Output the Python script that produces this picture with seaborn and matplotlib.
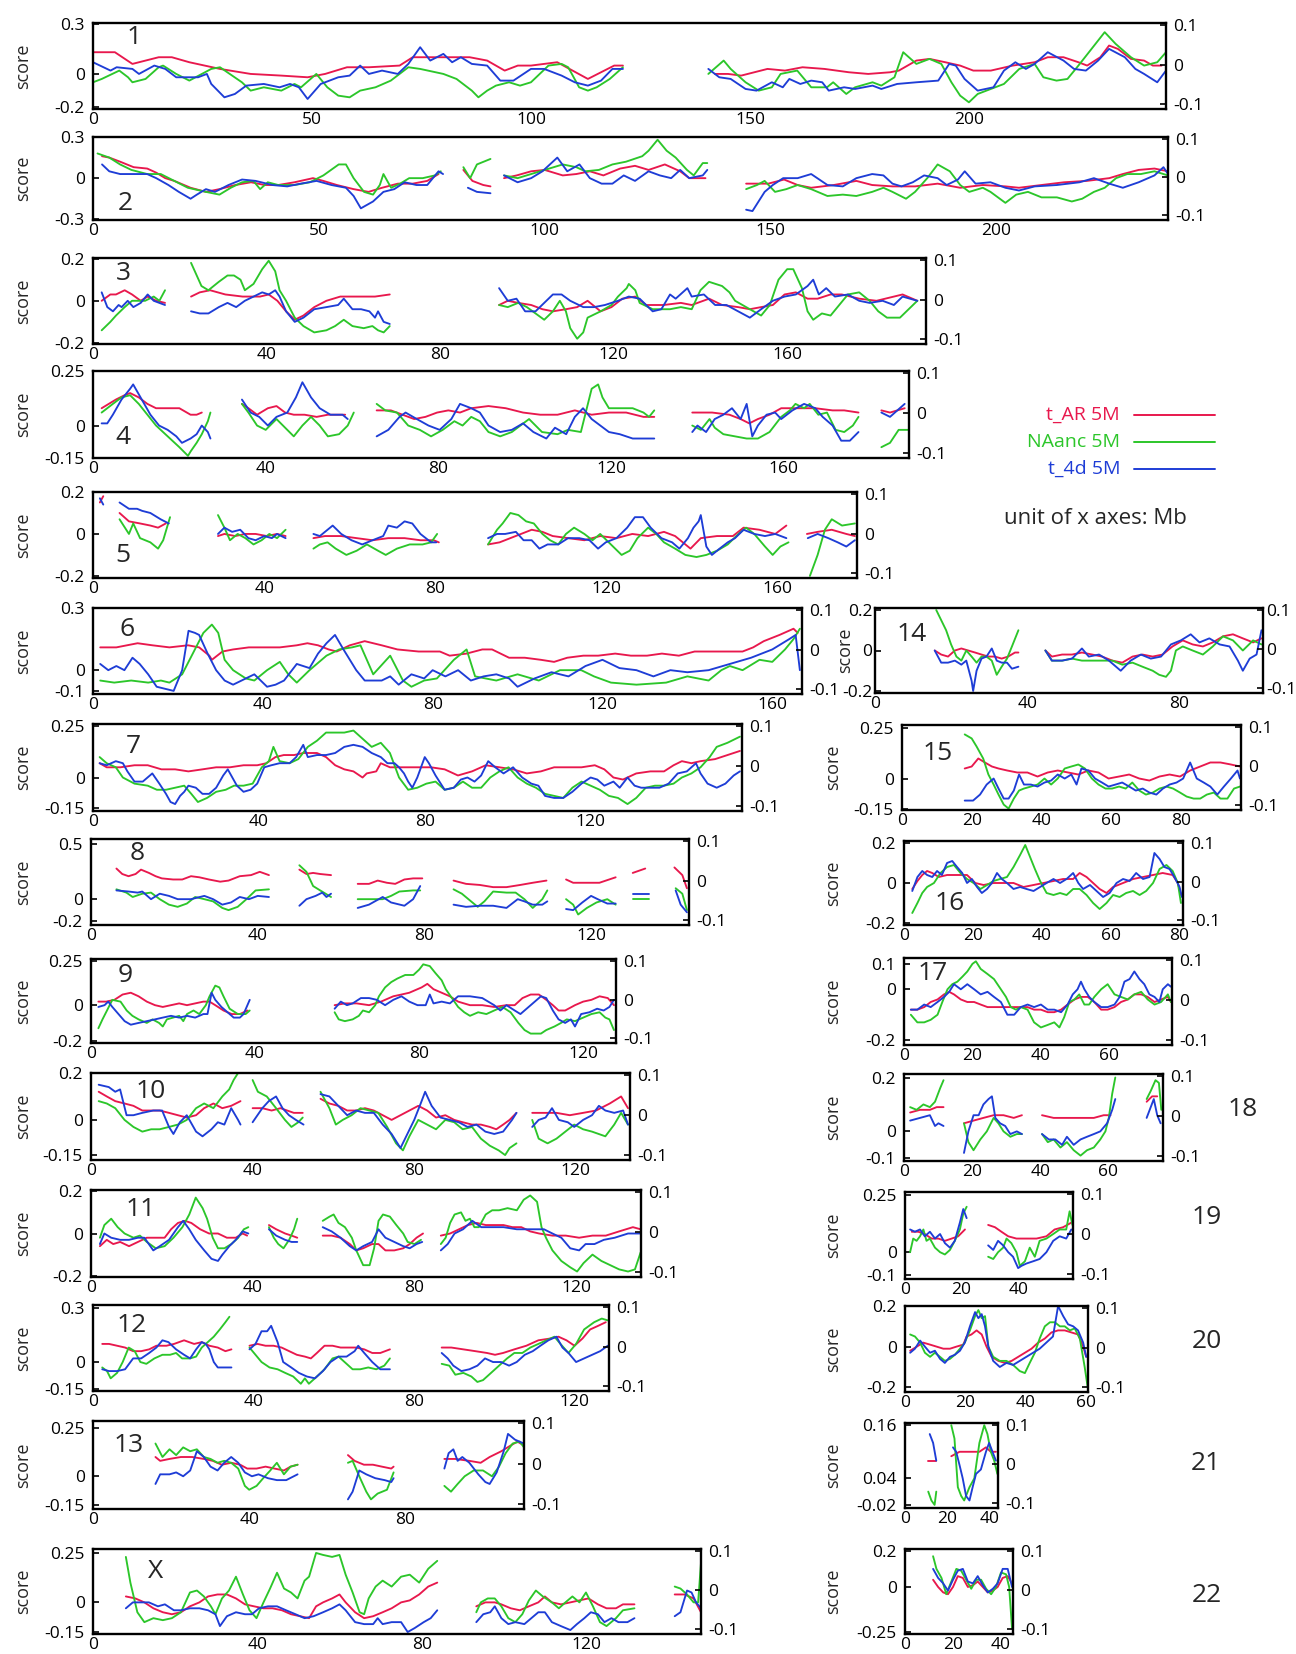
import matplotlib
matplotlib.use("Agg")
import matplotlib.pyplot as plt
from matplotlib.lines import Line2D
import pandas as pd
import seaborn as sns

# ---------------------------------------------------------------------------
# data: (position in Mb, score); None marks a gap in the series
# ---------------------------------------------------------------------------
AR_1 = [(0,.13),(5,.13),(9,.06),(15,.10),(18,.10),(22,.07),(29,.03),(36,0),(43,-.01),(49,-.02),(53,0),(58,.04),(63,.04),(70,.05),(73,.10),(80,.10),(86,.10),(90,.08),(94,.02),(97,.05),(100,.05),(103,.06),(106,.07),(113,-.03),(119,.05),(121,.05), None,
        (142,0),(145,0),(148,-.01),(154,.03),(158,.02),(162,.04),(167,.03),(172.6,.01),(177,0),(182,.01),(184,.02),(188,.08),(191,.09),(194.6,.07),(198,.05),(201,.02),(205,.02),(210,.05),(215,.07),(218,.10),(221.6,.10),(225,.07),(227,.05),(230,.10),(232,.17),(234,.15),(237,.09),(240,.08),(242,.05),(244,.05)]
NA_1 = [(0,-.05),(2,-.03),(6,.02),(8,-.02),(9,-.05),(12,-.03),(15,.04),(16,.05),(19,0),(22,-.04),(27,.03),(29,.04),(34,-.05),(36,-.10),(39,-.08),(43,-.10),(46,-.06),(47.5,-.08),(51,0),(53.5,-.08),(56,-.13),(58.6,-.14),(61,-.10),(64.5,-.08),(68,-.04),(72,.04),(74.7,.03),(80,0),(83,-.03),(86.5,-.10),(88,-.14),(90,-.10),(92,-.07),(95,-.05),(97.5,-.07),(100,-.05),(104,.05),(107,.06),(108.5,.04),(111,-.08),(113,-.10),(115,-.08),(118,-.03),(121,.04), None,
        (140.5,0),(144,.08),(145.6,.03),(149,-.05),(152,-.10),(155,-.08),(157,0),(160.8,.02),(164,-.08),(167.6,-.08),(169,-.05),(172,-.12),(174,-.08),(178,-.05),(180,-.07),(183,-.02),(185,.13),(188,.06),(191,.09),(193.7,.06),(196,-.05),(198,-.13),(200,-.17),(202,-.12),(206,-.08),(208,-.06),(211.5,.03),(215,.06),(217,-.02),(220,-.04),(222.5,-.03),(225,.05),(228,.15),(231,.25),(233.5,.18),(237,.10),(240,.05),(243,.07),(245,.13)]
T4_1 = [(0,.07),(4,.02),(5.4,.04),(9,.03),(10.5,0),(14,.05),(16.5,.03),(19,-.02),(24,-.02),(26,0),(27,-.06),(30,-.14),(32.4,-.12),(35,-.07),(39,-.06),(42.6,-.08),(45,-.06),(47,-.08),(49,-.15),(52,-.06),(56,-.02),(58.6,-.01),(61,.05),(63,0),(66,.02),(69.6,0),(72,.06),(74.7,.16),(77,.08),(80,.12),(82,.07),(84,.10),(86.5,.06),(90,.05),(93,-.04),(96,-.04),(100,.03),(103,.03),(107,-.01),(110,-.05),(113,-.07),(116,-.04),(118.6,.03),(121,.03), None,
        (140.5,.03),(143,-.02),(145.6,-.03),(149,-.09),(151.5,-.10),(155,-.05),(157.5,-.08),(159,-.03),(161.5,-.06),(164,-.04),(166.5,-.05),(168,-.10),(171.5,-.08),(174,-.09),(178,-.07),(180,-.09),(183.6,-.06),(188,-.05),(193,-.04),(195.5,.06),(197,.05),(199,-.03),(202,-.10),(205.6,-.08),(208,.02),(210.6,.07),(213,.03),(215,.06),(218,.13),(221.6,.08),(224,.03),(226.7,.02),(229.5,.08),(232,.15),(235.6,.10),(238,.03),(240,0),(243,-.05),(245,.02)]

AR_2 = [(2,.16),(3.6,.15),(6,.12),(9,.08),(12,.07),(14,.04),(16,0),(18,-.02),(21.6,-.07),(25,-.10),(28,-.08),(31.5,-.05),(35,-.03),(38,-.05),(41,-.05),(44.6,-.03),(48.7,0),(51,-.02),(54,-.05),(57.7,-.08),(61,-.10),(64,-.07),(67.5,-.04),(70.8,-.04),(74,-.02),(76.5,.03), None,
        (82,.06),(84,-.02),(86.4,-.05),(88,-.06), None,
        (91,0),(93.8,.02),(97,.05),(100,.06),(104,.02),(107,.03),(110,.05),(113,.02),(116.7,.07),(120,.09),(123,.06),(126.6,.10),(130,.05),(132,0),(135.6,0), None,
        (144.6,-.04),(149.5,-.04),(153,-.01),(156,-.05),(159,-.07),(164,-.05),(169,-.02),(172.5,-.05),(177,-.06),(182,-.06),(187,-.04),(192,-.07),(197,-.05),(202,-.06),(205,-.07),(210,-.05),(215,-.03),(220,-.02),(225,0),(228,.03),(231.5,.06),(235,.07),(238,.05)]
NA_2 = [(1,.18),(3.6,.15),(6,.10),(8.5,.06),(12,.03),(15,.03),(18,-.02),(21,-.07),(25,-.10),(28,-.12),(30.5,-.07),(33,-.03),(35.5,-.02),(37,-.08),(38.7,-.03),(41,-.05),(44.6,-.05),(48,-.03),(51,.02),(54.4,.10),(56,.10),(57.7,0),(60,-.10),(62,-.12),(63.5,-.05),(64.3,.03),(66,-.07),(68,-.04),(70,0),(73,0),(75.7,.02),(77,.05), None,
        (82,.08),(83.5,0),(85,.10),(88,.14), None,
        (91,.02),(94,0),(97,.03),(100,.06),(104,.10),(107,.08),(109,.05),(112,.06),(115,.10),(118,.12),(121.6,.16),(123,.20),(125,.28),(127,.20),(129,.15),(131.5,.06),(133,.02),(135,.11),(136,.11), None,
        (144.6,-.08),(147,-.05),(148.7,-.02),(151,-.10),(153.5,-.08),(156,-.05),(159,-.08),(162.6,-.13),(166,-.12),(169,-.13),(172.5,-.10),(175,-.07),(177,-.10),(180,-.15),(182,-.10),(184.7,0),(187,.10),(189.7,.05),(192,-.05),(194,-.10),(197,-.07),(198.7,-.10),(202,-.18),(204.4,-.12),(207,-.10),(210,-.14),(213.4,-.14),(216.7,-.17),(219,-.15),(221.6,-.10),(224,-.07),(226.5,0),(229,.03),(232,.03),(235,.05),(238,.02)]
T4_2 = [(2,.10),(3.6,.05),(6,.03),(9,.03),(12,.03),(14,0),(16.7,-.05),(19,-.10),(21.6,-.15),(23,-.12),(25,-.08),(27,-.10),(30,-.05),(33,-.01),(36,-.02),(39.7,-.05),(43,-.06),(46,-.04),(49.5,-.02),(52.8,-.05),(56,-.07),(57.7,-.13),(59.3,-.22),(62,-.17),(64.3,-.10),(66.7,-.08),(69,-.03),(71.6,-.05),(74,-.05),(76.5,.05),(77.5,.03), None,
        (83,-.07),(85,-.10),(88,-.11), None,
        (91,.02),(94,-.03),(97,0),(99.5,.05),(102.8,.15),(105,.05),(107.7,.10),(110,0),(112.6,-.04),(115,-.04),(117.5,.02),(120,-.02),(123,.05),(125.5,.02),(128,0),(130,.06),(132,0),(135,.02),(136,.06), None,
        (144.6,-.23),(146,-.24),(148.7,-.10),(150.5,-.05),(152.8,0),(156,0),(159,.03),(162.6,-.05),(166,-.06),(169,0),(172.5,.03),(175,.02),(177,-.04),(179,-.06),(181.5,-.03),(184,.02),(187,0),(189,-.05),(191.5,-.01),(193,.05),(195.4,-.04),(198.7,-.03),(202,-.07),(205,-.09),(208.5,-.06),(213.4,-.05),(218.4,-.03),(221.6,0),(225,-.04),(228,-.07),(231.5,-.03),(235,.02),(237,.08),(238,.03)]

AR_3 = [(2,0),(4,.03),(5.3,.03),(7.3,.05),(9,.03),(11,0),(12.6,.02),(14.6,0),(16.6,-.01), None,
        (22.6,.02),(24.6,.04),(27,.05),(30.5,.03),(34.5,.02),(38.5,.02),(40.5,.03),(42.5,0),(44.5,-.05),(46.5,-.09),(48.5,-.07),(51,-.03),(53.8,0),(57,.02),(61,.02),(65,.02),(68.4,.03), None,
        (93.6,-.02),(95.6,0),(98,-.01),(101,-.02),(103.6,-.04),(106,-.05),(109,-.04),(111.6,-.03),(114,0),(117,-.05),(119.5,-.03),(122,.01),(125,.02),(127.5,-.02),(131.5,-.02),(135.5,-.01),(138,-.02),(142,.01),(145,-.02),(148.7,-.03),(151.4,-.04),(154,-.03),(156.7,-.02),(159.4,.03),(162,.04),(164.7,.01),(167,.01),(170,.03),(172.6,.03),(176.6,.01),(180.6,0),(184.6,.02),(186.6,.03),(190,0)]
NA_3 = [(2,-.14),(4,-.10),(5.3,-.07),(7.3,-.03),(9,0),(12,0),(14,.02),(15.3,0),(16.6,.05), None,
        (22.6,.18),(25,.07),(26.6,.05),(29,.09),(31,.12),(32.5,.12),(34,.10),(35,.05),(37,.08),(39,.15),(40.5,.19),(42,.14),(43,.05),(44.5,0),(46.5,-.08),(48.5,-.12),(51,-.15),(53.8,-.14),(55.8,-.12),(57.8,-.09),(59.8,-.12),(62.4,-.13),(64.4,-.12),(65.7,-.14),(67,-.15),(68.4,-.12), None,
        (93.6,-.02),(95.6,-.03),(98,-.01),(100,-.03),(102,-.06),(104,-.09),(106,-.05),(107.6,0),(109,-.05),(110,-.13),(111.6,-.18),(113,-.15),(114,-.08),(117,-.05),(119.5,-.02),(121,.02),(123,.06),(123.5,.08),(125,.05),(126,-.01),(129,-.04),(133,-.04),(135.5,-.03),(138,-.04),(140,.05),(142,.09),(145,.07),(146.7,.04),(148,0),(151.4,-.04),(154,-.07),(156,-.02),(158,.10),(160,.15),(161.4,.15),(163.4,.06),(164.7,-.05),(166,-.09),(168,-.06),(170,-.07),(172,-.02),(174,.03),(176.6,.04),(179,0),(181,-.05),(183,-.08),(186,-.08),(190,0)]
T4_3 = [(2,.04),(3.3,-.03),(4.6,-.05),(5.9,-.02),(6.6,-.03),(8,0),(9.3,-.03),(11,-.01),(12.6,.03),(14,0),(16.6,-.02), None,
        (22.6,-.05),(24.6,-.06),(26.6,-.06),(29,-.03),(31,-.01),(33,-.03),(35,0),(37,.02),(39,.04),(40.5,.03),(42,.05),(43,.02),(44.5,-.05),(46.5,-.10),(48.5,-.08),(51,-.04),(53.8,-.03),(56.5,-.02),(57.8,.01),(59.8,-.04),(61.8,-.04),(63.7,-.05),(65,-.08),(65.7,-.05),(67,-.10),(68.4,-.11), None,
        (93.6,.06),(95.6,0),(97.6,.01),(99.6,-.05),(102,-.05),(104,-.01),(106,.03),(108,.03),(110,0),(113,-.03),(115.5,-.03),(118,-.02),(121,0),(123.5,.02),(126,.01),(129,-.05),(131,-.04),(133,.03),(134.3,.01),(137,.06),(138,.02),(140.8,.03),(143.4,-.02),(146,-.02),(148.7,-.05),(151.4,-.08),(154,-.04),(156.7,0),(159.4,.02),(162,.03),(164.7,.07),(166,.10),(167.3,.03),(169,.06),(171,.02),(174,.03),(176.6,0),(179,-.01),(182,0),(184.6,-.02),(186.6,.02),(190,0)]

AR_4 = [(2,.08),(5.3,.12),(7.3,.14),(8.6,.15),(10.6,.13),(12.6,.10),(14.6,.08),(17.3,.08),(20,.08),(22.6,.05),(24,.05),(25.2,.06), None,
        (34.5,.10),(36,.08),(38,.05),(40.5,.08),(42.5,.09),(44.5,.06),(46.5,.05),(49,.05),(51.8,.04),(54.4,.05),(57,.05),(58.4,.05), None,
        (65.7,.07),(69,.07),(71.7,.05),(74.4,.03),(77,.04),(79.7,.06),(82.3,.07),(85,.06),(87.6,.08),(91.6,.09),(95.6,.08),(99.6,.06),(103.6,.05),(107.6,.05),(111.6,.07),(115.5,.05),(119.5,.06),(123.5,.06),(127.5,.04),(130,.04), None,
        (138.8,.06),(143.4,.06),(147.4,.05),(150,.03),(152,.01),(154,.03),(156.7,.05),(159.4,.08),(163.4,.08),(167.3,.08),(171.3,.07),(174,.07),(177.3,.06), None,
        (182.6,.07),(184.6,.06),(188,.08)]
NA_4 = [(2,.06),(4.6,.10),(6.6,.13),(8.6,.14),(10.6,.10),(12.6,.05),(14.6,0),(17.3,-.05),(20,-.10),(22,-.14),(22.6,-.12),(24,-.08),(25.2,-.04),(26.6,.02),(27.2,.06), None,
        (34.5,.10),(36,.06),(38,0),(40,-.02),(41,0),(42.5,.03),(44.5,-.01),(46.5,-.05),(48.5,0),(50.5,.04),(52.5,0),(54.4,-.05),(57,-.04),(59,0),(60.4,.06), None,
        (65.7,.10),(67.7,.07),(70.4,.06),(73,0),(75.7,-.02),(78.3,-.05),(81,-.02),(83.7,.02),(85.6,0),(87.6,.04),(89.6,.02),(91.6,-.03),(94.3,-.05),(97,-.03),(99,0),(101,.03),(104,-.03),(107.6,-.04),(110,-.02),(113,-.03),(114,.05),(115.5,.17),(117,.19),(118,.13),(119.5,.08),(122,.08),(125,.08),(127.5,.06),(128.8,.04),(130,.07), None,
        (138.8,0),(140.8,-.02),(142.8,.03),(144,-.01),(146,-.04),(148.7,-.05),(151.4,-.06),(154,-.06),(156.7,-.03),(159.4,.04),(161.4,.07),(162.7,.10),(164.7,.08),(166,.10),(168,.05),(170,.06),(172,-.02),(174,-.03),(176,0),(177.3,.04), None,
        (182.6,-.10),(184.6,-.08),(186.6,-.02),(189,-.02)]
T4_4 = [(2,.01),(3.3,.01),(4.6,.05),(6.6,.12),(8.6,.17),(9.3,.19),(11.3,.12),(13.3,.05),(15.3,0),(17.3,-.02),(19.3,-.05),(20.6,-.08),(22.6,-.06),(24,-.04),(25.2,0),(26.6,-.03),(27.2,-.06), None,
        (34.5,.12),(36.5,.06),(38.5,.04),(40.5,0),(42.5,.04),(45,.06),(47,.13),(48.5,.20),(50.5,.13),(52.5,.08),(55,.05),(57.8,.05),(59,.03), None,
        (65.7,-.05),(68.4,-.02),(71,.04),(72.4,.06),(75,.03),(77.7,0),(80.3,-.02),(83,.03),(85,.10),(87.6,.08),(89.6,.06),(91.6,0),(94.3,-.03),(97,-.02),(99.6,.01),(102,-.03),(105,-.06),(107,-.01),(109.6,-.04),(111.6,.04),(113.5,.08),(115.5,.03),(117.5,0),(119.5,-.03),(122,-.04),(125,-.06),(127.5,-.06),(130,-.06), None,
        (138.8,-.03),(140,0),(142,-.03),(144,.03),(146,.05),(148,.08),(150,.03),(151.4,.10),(152.7,-.05),(154,0),(156,.05),(158,.06),(159.4,.03),(162,.07),(164.7,.10),(167.3,.08),(169,.04),(171.3,0),(173.3,-.07),(175.3,-.07),(177.3,-.03), None,
        (182.6,.06),(184.6,.04),(188,.10)]

AR_5 = [(1.6,.15),(2.4,.18), None,
        (6.2,.10),(8.4,.06),(11,.05),(13.4,.04),(15.2,.03),(17,.05), None,
        (29.2,-.01),(30.7,0),(33.2,-.01),(35.6,0),(38,0),(40.6,-.01),(43,0),(45,-.01), None,
        (51.5,-.02),(54.2,-.01),(58,-.01),(61.6,-.02),(65.3,-.03),(69,-.02),(72.8,-.02),(76.5,-.03),(79.6,-.03),(80.8,-.04), None,
        (92.3,-.05),(95,-.04),(97.5,-.02),(100,0),(102.5,.02),(105,.01),(107.4,-.01),(111,-.02),(114.8,-.03),(118.5,-.01),(122.3,-.02),(126,0),(129.7,-.01),(133.4,.01),(136,-.01),(138.4,-.05),(139.6,-.07),(142,-.02),(145.8,-.01),(149.5,-.01),(152,.03),(155.7,.02),(159.4,0),(162,.04), None,
        (166.8,0),(169.3,.01),(172.6,.02),(176,0),(178,-.01)]
NA_5 = [(6.2,.07),(8.4,0),(9.4,.05),(11,-.02),(13.4,-.04),(15.2,-.07),(16.4,-.03),(18,.08), None,
        (29.2,.09),(30.7,.03),(32,-.03),(33.8,0),(35.6,-.02),(37.5,-.05),(39.4,-.03),(41.2,0),(43,-.02),(45,.02), None,
        (51.5,-.07),(53,-.05),(54.8,-.04),(56.7,-.07),(59.2,-.10),(61.6,-.08),(64,-.05),(66.6,-.08),(68.4,-.10),(71,-.07),(74,-.05),(77,-.05),(79,-.04),(80.4,0), None,
        (92.3,-.05),(94.4,.02),(95.7,.05),(97.5,.10),(99.4,.09),(101.2,.06),(103,.05),(105,0),(106.8,-.03),(108.7,-.05),(110.5,0),(112.4,.03),(114.8,0),(116.7,-.03),(118.5,0),(121,-.05),(123.5,-.10),(125.4,-.08),(127.2,-.02),(129.7,.03),(131.6,0),(133.4,-.04),(136,-.07),(138.4,-.10),(141,-.11),(143.3,-.10),(145.8,-.08),(148.3,-.05),(150.8,0),(152.6,.03),(154.5,0),(157,-.06),(158.8,-.10),(160.6,-.06),(162.5,-.04), None,
        (167.5,-.20),(169.3,-.10),(171,.02),(172.6,.07),(175,.04),(178,.05)]
T4_5 = [(1.6,.17),(2.4,.14), None,
        (6.2,.15),(8.4,.12),(10.3,.12),(11.5,.11),(13.4,.10),(15.8,.07),(17.7,.05), None,
        (29.2,0),(30.7,.03),(32.5,.01),(34.4,.02),(36.3,-.02),(38,-.03),(40,-.01),(41.8,-.02),(43,0),(45,-.02), None,
        (51.5,0),(53,-.01),(54.8,.02),(56,.04),(58,0),(60.4,-.03),(62.9,-.05),(65.3,-.03),(67.8,-.01),(69,.04),(71,.03),(72.8,.06),(74.6,.05),(76.5,0),(79,-.04),(80.2,-.04), None,
        (92.3,-.02),(94.4,0),(96.3,0),(98.8,.01),(100.6,-.03),(102.5,-.03),(104.3,-.07),(106.2,-.05),(108.7,-.05),(111,-.02),(113.6,-.02),(116,-.03),(118,-.07),(119.8,-.04),(122.3,-.02),(124.8,.03),(126.6,.08),(128.5,.08),(130.3,.03),(132.8,-.02),(135.3,-.04),(137,-.07),(139,-.02),(140.3,.03),(141.5,.06),(142,.09),(143.3,-.06),(144.6,-.10),(146.4,-.07),(148.3,-.04),(150,-.02),(152,.02),(154.5,0),(157,-.01),(159.4,0),(162,-.02), None,
        (167,-.02),(169.3,0),(171.8,-.02),(174,-.04),(176,-.06),(178,-.03)]

AR_6 = [(1.7,.11),(5.5,.11),(8,.12),(10.5,.13),(14,.12),(18,.11),(22.4,.12),(25,.11),(27.4,.07),(28,.05),(30.5,.09),(33,.10),(36.7,.11),(40.5,.11),(44,.11),(48,.12),(50.5,.13),(53,.12),(55.5,.10),(57.4,.09),(60.5,.12),(64,.14),(68,.12),(71.7,.10),(76.7,.09),(81.7,.09),(84,.07),(88,.08),(91.7,.10),(94,.10),(98,.06),(101.7,.06),(105.5,.05),(108.6,.04),(111.7,.06),(115.5,.07),(119,.07),(123,.08),(126.7,.07),(130.5,.07),(134,.08),(138,.07),(141.7,.09),(145.5,.09),(149,.09),(153,.09),(155.5,.11),(158,.14),(161.7,.17),(165,.20),(166,.18)]
NA_6 = [(1.7,-.05),(5,-.06),(9,-.05),(13,-.06),(16,-.05),(18,-.06),(21,-.02),(24,.10),(26,.18),(28,.22),(29.5,.18),(31,.05),(33,0),(36,-.04),(38,-.05),(41,0),(44,.04),(46,-.02),(48,-.06),(51,0),(55,.07),(58,.10),(61,.11),(63,.12),(66,-.02),(70,.07),(73,-.05),(75,-.08),(78,-.05),(81,-.04),(85,.05),(88,.10),(90,-.03),(95,-.05),(100,-.02),(105,-.05),(110,0),(115,0),(118,-.03),(122,-.06),(128,-.07),(135,-.06),(140,-.03),(145,-.05),(148,0),(150,.02),(153,0),(157,.05),(160,.04),(163,.10),(165,.15),(166.5,.20)]
T4_6 = [(1.7,.03),(3.6,0),(5.5,.02),(7.4,0),(9.3,.06),(11,.03),(13,-.02),(15,-.08),(17,-.09),(19,-.10),(21,0),(22.5,.19),(24,.18),(25,.17),(27,.08),(29,0),(31,-.05),(33,-.07),(35,-.05),(38,-.02),(41,-.08),(43,-.07),(45,-.05),(48,.03),(51,.01),(53,.08),(55,.13),(57,.17),(59,.10),(62,0),(64,-.05),(68,-.05),(70,-.03),(72,-.07),(75,-.02),(78,-.04),(80,0),(83,-.03),(86,0),(89,-.05),(92,-.03),(95,-.02),(98,-.04),(100,-.08),(104,-.04),(108,-.01),(112,-.03),(116,.02),(120,.05),(124,.01),(128,0),(132,-.03),(136,0),(140,-.01),(145,0),(150,.03),(155,.06),(160,.10),(164,.15),(165.5,.17),(166.5,0)]

AR_7 = [(1.6,.07),(3.3,.05),(6.6,.05),(10,.06),(13.2,.06),(16.5,.04),(19.8,.04),(23,.03),(26.4,.04),(29.7,.05),(33,.05),(36.3,.06),(39.6,.06),(41.8,.07),(44,.10),(46,.11),(48.5,.11),(50.7,.12),(54,.12),(56.2,.10),(58.4,.06),(60.6,.04),(62.8,.03),(65,0),(66,.02),(68.3,.03),(69.4,.07),(71.6,.05),(75,.05),(78.2,.05),(81.5,.05),(84.8,.04),(88,.01),(91.4,.03),(94.7,.06),(98,.05),(101.3,.04),(104.6,.02),(108,.03),(111.2,.05),(114.5,.05),(117.8,.05),(121,.06),(123.3,.04),(125.5,0),(127.8,-.01),(131,.02),(134.4,.03),(137.7,.03),(140,.06),(142,.08),(144.3,.07),(146.5,.08),(150,.09),(153,.11),(156,.13)]
NA_7 = [(1.6,.10),(3.3,.07),(5.5,.05),(7.2,0),(10,-.03),(13.2,-.04),(15.4,-.06),(17.6,-.06),(19.8,-.05),(22,-.04),(23.7,-.08),(25.3,-.12),(27.5,-.10),(29.7,-.07),(32,-.06),(34,-.04),(36.3,-.04),(38.5,-.03),(40.7,.05),(42.4,.08),(43.5,.15),(45,.08),(47.4,.07),(49.5,.09),(51.8,.15),(54,.18),(56.2,.22),(58.4,.22),(60.6,.22),(62.8,.23),(65,.19),(67.2,.15),(69.4,.17),(71.6,.12),(73.8,0),(76,-.06),(78.2,-.05),(80.4,-.03),(82.6,-.02),(84.8,-.06),(87,-.05),(89.2,-.02),(91.4,-.05),(93.6,-.05),(95.8,0),(98,.03),(100.2,.05),(102.4,0),(104.6,-.03),(106.8,-.05),(109,-.08),(111.2,-.09),(113.4,-.10),(115.6,-.05),(117.8,-.02),(120,-.04),(122.2,-.06),(124.4,-.09),(126.6,-.10),(128.9,-.13),(131,-.10),(133.3,-.05),(135.5,-.04),(137.7,-.04),(140,-.03),(142,0),(144.3,.02),(146.5,.05),(148.7,.10),(150.4,.15),(153,.17),(156,.20)]
T4_7 = [(1.6,.07),(3.3,.06),(5.5,.08),(7.2,.07),(8.3,.03),(10,-.02),(12,-.02),(14.3,.02),(16,-.03),(17.6,-.08),(18.7,-.12),(19.8,-.13),(21,-.09),(22,-.07),(23,-.04),(24.8,-.05),(26.4,-.08),(28,-.08),(29.7,-.05),(31.4,.01),(32.5,.04),(33.6,0),(34.7,-.04),(36.3,-.07),(38,-.06),(39.6,-.03),(41.3,.05),(43,.06),(45,.07),(47.4,.07),(49,.10),(50.7,.16),(51.8,.10),(54,.11),(56.2,.11),(58.4,.12),(60.6,.15),(62.8,.16),(65,.15),(67.2,.12),(69.4,.10),(71,.07),(72.7,.07),(73.8,.05),(75,.02),(76,-.02),(77,-.05),(78.2,0),(80,.10),(81,.07),(82.6,.01),(84.8,-.06),(87,-.05),(88.7,-.01),(90.3,0),(92,-.02),(93.6,.01),(95.3,.08),(97,.05),(99,.02),(101.3,.05),(103.5,0),(105.7,-.03),(107.4,-.04),(109,-.09),(111.2,-.10),(113.4,-.10),(115.6,-.07),(117.8,-.03),(120,0),(121.6,-.01),(123.3,-.04),(125.5,-.02),(127,-.05),(128.9,0),(130.6,-.04),(132.2,-.05),(134.4,-.05),(136.6,-.05),(138.8,-.03),(141,.02),(143.2,.03),(145.4,.07),(146.5,.02),(148.2,-.03),(150.4,-.05),(152.5,-.03),(154.5,.01),(156,.03)]

AR_8 = [(6.1,.28),(7.5,.23),(9,.21),(10.7,.23),(12,.27),(13.9,.24),(15.5,.21),(17,.19),(19.7,.18),(21.9,.18),(24,.21),(26,.20),(28.3,.18),(31,.16),(33,.17),(35.7,.21),(38.4,.22),(40.5,.25),(42.7,.22), None,
        (50,.27),(51.7,.23),(53.3,.24),(55,.23),(57.6,.22), None,
        (64,.14),(66.7,.14),(68.8,.17),(71,.15),(73,.14),(75.2,.18),(77.3,.19),(79.5,.19), None,
        (87,.17),(90,.14),(93.3,.13),(96.5,.11),(99.7,.11),(103,.13),(106,.15),(109.3,.17), None,
        (114,.18),(115.7,.15),(119,.15),(122,.15),(125.9,.20), None,
        (130,.24),(133,.28), None,
        (140,.29),(141.9,.22),(143,.10)]
NA_8 = [(6.1,.09),(8.5,.06),(10,.02),(12.3,.05),(14.4,.06),(16.5,0),(18.7,-.05),(20.8,-.07),(23,-.04),(25,.02),(27.2,0),(29.3,-.02),(31.5,-.08),(33,-.10),(35.2,-.07),(37.3,0),(39.5,.08),(42.7,.09), None,
        (50,.31),(51.7,.25),(53.3,.12),(55,.08),(57.6,.02), None,
        (64,0),(66.7,0),(70,0),(72,.03),(74,.07),(77.3,.08),(79,.08), None,
        (87,.09),(89,.05),(91.2,-.02),(92.8,-.07),(94.4,-.02),(96.5,.07),(99.7,.06),(101.9,.06),(104,0),(106,-.08),(108.3,0),(109.5,.08), None,
        (114,0),(115.7,-.05),(116.9,-.14),(119,-.08),(121.3,-.03),(123.9,0),(125.9,-.05), None,
        (130,0),(134,0), None,
        (140.3,.10),(141.9,.05),(143,-.10)]
T4_8 = [(6.1,.08),(9,.07),(11.2,.06),(12.3,.07),(14.4,0),(16.5,.05),(18.7,.03),(20.8,0),(24,0),(27.2,.03),(29.3,0),(31.5,-.05),(33.6,-.03),(35.7,.02),(37.9,0),(40,.03),(42.7,.02), None,
        (50,-.06),(51.7,0),(53.9,.03),(55.5,.06),(56.5,.02),(57.6,.05), None,
        (64,-.08),(66.7,-.05),(70,.02),(72,-.03),(75.2,-.06),(77.3,0),(79,.12), None,
        (87,-.05),(90,-.07),(93.3,-.06),(96.5,-.06),(99.7,-.08),(102.4,0),(104,-.02),(106,-.05),(108.3,-.05),(109.5,-.02), None,
        (114,-.09),(115.7,-.10),(117.9,-.03),(120,.03),(121.6,0),(123.9,-.04),(125.9,-.04), None,
        (130,.05),(134,.05), None,
        (140.3,.08),(141.5,-.05),(143,-.12)]

AR_9 = [(1.8,.02),(3.7,.02),(5.7,.03),(7.7,.06),(9.7,.07),(11.6,.05),(13.6,.02),(15.6,0),(17.5,-.01),(19.5,0),(21.5,.01),(23.4,0),(25.4,.01),(27.4,.02),(28.9,.02),(30.3,0),(32.3,-.03),(34.3,-.05),(36.3,-.05),(38.2,-.03), None,
        (59.4,0),(61.9,.01),(64.8,.01),(67.8,0),(70.7,.02),(73.7,.05),(75.7,.06),(77.6,.07),(80.6,.10),(82,.12),(83.5,.09),(85.5,.07),(87.5,.05),(89.5,.02),(92.4,0),(95.4,0),(98.3,-.01),(101.3,0),(103.3,0),(105.2,.04),(107.2,.06),(109.2,.06),(111,.03),(112.6,0),(114,-.03),(115.6,-.03),(118,0),(120,.02),(122,.03),(124,.05),(126,.04),(127.5,0)]
NA_9 = [(1.8,-.13),(2.8,-.08),(3.9,-.03),(5.2,.03),(7.2,.02),(8.7,-.03),(10.1,-.06),(11.6,-.08),(13.6,-.10),(15,-.08),(16.6,-.10),(17.5,-.12),(18.5,-.08),(20,-.07),(21.5,-.06),(22.5,-.09),(23.4,-.05),(25,-.03),(26.4,-.05),(28,0),(28.9,.05),(30.3,.11),(31.3,.10),(32.3,.05),(33.8,-.02),(35.8,-.05),(37.7,-.05),(38.7,-.03), None,
        (59.4,-.04),(60.4,-.08),(61.9,-.09),(63.8,-.08),(65.3,-.06),(66.3,-.03),(67.8,-.04),(69.3,0),(70.2,.05),(71.7,.10),(73.2,.13),(74.7,.15),(76.6,.17),(78.6,.17),(80,.20),(81,.23),(82.6,.22),(84,.18),(85.5,.14),(86.5,.09),(88,.04),(89.5,-.01),(91,-.04),(92.4,-.06),(94.4,-.04),(96.4,-.05),(98.3,-.03),(100.3,-.01),(102.3,-.04),(104.2,-.10),(105.7,-.14),(107.2,-.16),(109.7,-.16),(111,-.14),(113,-.12),(114.6,-.10),(116,-.08),(118,-.09),(120,-.07),(122,-.05),(124,-.04),(125.4,-.07),(126.4,-.08),(127.5,-.14)]
T4_9 = [(1.8,-.01),(3.3,0),(4.2,.02),(5.2,-.01),(6.7,-.05),(8.2,-.09),(9.7,-.11),(11.6,-.10),(13.6,-.09),(15.6,-.08),(17.5,-.07),(19.5,-.06),(21.5,-.07),(23.4,-.06),(25.4,-.07),(27.4,-.05),(28.4,-.05),(29.4,.07),(30.3,.03),(31.8,-.01),(33.3,-.04),(34.8,-.07),(36.3,-.07),(37.2,-.05),(38.7,.03), None,
        (59.4,-.02),(60.9,.02),(62.4,0),(63.8,.01),(65.8,.04),(67.8,.04),(69.7,.03),(71.7,0),(73.7,.03),(75.7,.05),(77.6,.02),(79.6,0),(81.6,0),(82.6,.06),(83.5,.01),(85.5,.02),(87.5,.01),(89.5,.05),(92.4,.05),(95.4,.04),(98.3,0),(99.8,-.03),(101.3,0),(103.3,-.03),(104.7,-.05),(106.2,-.02),(108.2,.02),(109.7,.05),(111,.04),(112.6,-.03),(114,-.08),(115.6,-.10),(117,-.08),(118,-.12),(119.5,-.05),(121.5,-.04),(123.4,-.02),(125,-.03),(126.4,-.01),(127.5,.03)]

AR_10 = [(1.9,.12),(3.9,.10),(6,.08),(8.3,.07),(10.5,.06),(12.7,.04),(14.9,.04),(17,.04),(19.3,.03),(21.5,.02),(23.7,.01),(26,.02),(28,.05),(30.3,.07),(32.5,.05),(34.7,.06),(37,.08), None,
         (40,.05),(42.4,.05),(44.7,.04),(46.9,.05),(50.2,.03),(52.4,.03), None,
         (56.8,.09),(59,.07),(61.2,.06),(63.4,.04),(65.6,.04),(67.8,.05),(70,.04),(72.2,.02),(74.4,0),(76.6,.02),(78.8,.04),(81,.06),(83.2,.04),(85.4,.01),(87.7,.02),(89.9,0),(92,-.01),(94.3,-.02),(96.5,-.02),(98.7,-.03),(100.3,-.04),(102,-.02),(103.6,0),(105.3,.03), None,
         (109.2,.03),(112,.03),(115.2,.03),(118.5,.02),(121.8,.03),(125,.04),(128.4,.07),(131.2,.10),(132.9,.05)]
NA_10 = [(1.9,.08),(3.9,.07),(6,.05),(8.3,0),(10.5,-.03),(12.7,-.05),(14.9,-.04),(17,-.04),(19.3,-.03),(21.5,-.02),(23.7,0),(26,.05),(28,.07),(30.3,.05),(32.5,.10),(34.2,.13),(35.3,.17),(36.4,.20), None,
         (40,.17),(41.3,.12),(43.5,.10),(45.8,.05),(48,0),(49.6,-.03),(51.3,-.01),(52.4,.01), None,
         (56.8,.12),(59,.05),(60.6,-.02),(62.3,0),(64.5,.02),(66.7,.05),(68.9,.04),(71.1,.03),(73.3,-.03),(75.5,-.10),(77.2,-.13),(78.8,-.07),(81,0),(83.2,-.02),(85.4,-.04),(87.7,0),(89.9,-.01),(92,-.04),(94.3,-.03),(96.5,-.08),(98.7,-.11),(100.9,-.13),(102.5,-.15),(103.6,-.12),(105.3,-.10), None,
         (109.2,0),(110.8,-.08),(113,-.10),(115.2,-.08),(117.4,-.05),(119.6,-.02),(121.8,-.04),(124,-.05),(127.3,-.07),(129.5,-.02),(131.2,.03),(132.9,-.02)]
T4_10 = [(1.9,.15),(4.4,.14),(6,.12),(7.2,.13),(8.8,.02),(10.5,.02),(12.7,.03),(15.4,.04),(17.6,.04),(19.3,-.03),(20.4,-.06),(22,-.01),(23.7,.02),(26,-.05),(27.6,-.07),(29.8,-.04),(31.4,-.01),(33,-.02),(34.7,.05),(36.4,0),(37,-.02), None,
         (40,-.01),(42.4,.05),(44,.08),(45.8,.10),(47.4,.05),(49,.02),(50.7,0),(52.6,-.02), None,
         (56.8,.11),(59,.10),(61.2,.06),(63.4,.02),(65.6,.04),(67.8,.03),(70,.03),(72.2,-.02),(74.4,-.06),(76.6,-.12),(78.3,-.06),(80,0),(81.6,.07),(82.7,.12),(84.3,.06),(86.5,.01),(88.8,0),(91,-.01),(93.2,-.03),(95.4,-.02),(97.6,-.05),(99.8,-.06),(102,-.05),(104.2,0),(105.3,.03), None,
         (109.2,-.03),(110.8,0),(112.5,.01),(114.1,.05),(115.8,0),(118,-.01),(119.6,-.03),(121.8,0),(124,.02),(125.7,.06),(127.3,.04),(129.5,.03),(131.7,.04),(132.9,-.02)]

AR_11 = [(2.2,-.06),(3.9,-.03),(5.5,-.05),(7.2,-.04),(9.4,-.06),(11.6,-.04),(13.8,-.02),(16,-.02),(18.2,-.02),(19.8,.02),(21.5,.05),(23.2,.06),(24.8,.05),(27,.02),(29.2,0),(31.4,0),(33.6,-.02),(35.8,-.02),(37.5,0),(38.6,-.01), None,
         (44,.04),(45.8,.02),(48,0),(49.6,-.01),(51,-.02), None,
         (57.3,-.01),(59.5,-.01),(61.7,-.02),(64,-.05),(65.6,-.08),(67.3,-.07),(69.5,-.05),(71.1,-.05),(72.8,-.08),(75,-.08),(77.2,-.07),(78.8,-.05),(80.5,-.02),(82.1,0), None,
         (86.5,-.01),(88.8,0),(91,.02),(93.2,.04),(95.4,.05),(97.6,.04),(99.8,.04),(102,.04),(104.2,.03),(106.4,.03),(108.6,.01),(110.8,0),(114.1,-.01),(117.4,-.01),(120.7,-.02),(124,-.01),(127.3,-.01),(130.6,.01),(134,.03),(135.9,.02)]
NA_11 = [(2.2,-.02),(3.3,.04),(5,.07),(6.6,.03),(8.3,0),(10.5,-.02),(12.1,-.01),(13.8,-.04),(16,-.07),(18.2,-.06),(20.4,-.02),(22.6,.03),(24.3,.09),(25.9,.17),(27.6,.12),(28.7,.07),(30.1,-.02),(31.4,-.07),(33,-.07),(34.7,-.05),(36.4,-.02),(37.8,.02),(38.9,.03), None,
         (44,.03),(45.2,-.02),(46.3,-.05),(47.6,-.07),(49,-.03),(50.2,.02),(51,.07), None,
         (57.3,.06),(59,.08),(60,.09),(61.2,.05),(62.8,.03),(64.5,-.02),(65.6,-.08),(67.3,-.15),(68.9,-.15),(70,-.07),(71.1,.06),(72.2,.09),(73.9,.08),(75.5,.04),(77.2,0),(78.3,-.04),(80,-.05),(81.6,-.03), None,
         (86.5,-.05),(87.7,-.02),(88.8,.05),(89.9,.09),(91.5,.10),(92.6,.06),(93.7,.07),(94.8,.03),(95.9,.03),(97.6,.09),(99.2,.11),(100.9,.11),(103,.12),(105.3,.11),(107,.16),(108.6,.18),(110.3,.15),(111.4,.03),(112.5,-.02),(114.1,-.08),(116.3,-.13),(118.5,-.16),(120.2,-.18),(121.8,-.14),(124,-.10),(126.2,-.13),(128.4,-.15),(130.6,-.17),(132.8,-.18),(134.5,-.17),(135.9,-.09)]
T4_11 = [(2.2,-.05),(3.3,0),(5,-.02),(7.2,-.03),(9.4,-.03),(11.6,-.02),(13.2,-.02),(15.4,-.08),(17,-.06),(19.3,-.03),(21.5,.03),(22.8,.06),(24.3,.02),(25.9,-.03),(28,-.08),(29.8,-.12),(31.4,-.13),(32.5,-.10),(34.2,-.06),(35.8,-.03),(37.5,.01),(38.9,0), None,
         (44,.02),(45.8,-.01),(48,-.03),(49.6,-.04),(51,-.04), None,
         (57.3,.03),(59.5,.01),(61.7,-.02),(64,-.06),(65.6,-.08),(67.3,-.06),(69.5,-.04),(71.1,.02),(72.8,-.02),(75,-.04),(77.2,-.06),(78.8,-.07),(80.5,-.05),(81.9,-.04), None,
         (86.5,-.08),(88.2,-.05),(89.9,0),(92,.02),(94.3,.06),(96.5,.03),(98.7,.03),(102,.03),(105.3,.02),(108.6,.02),(112,.02),(114.1,0),(116.3,-.02),(118.5,-.07),(120.7,-.08),(122.3,-.05),(124.5,-.05),(126.8,-.03),(129.5,-.02),(132.8,0),(135.9,0)]

AR_12 = [(2.3,.10),(4,.10),(6,.09),(8,.08),(10,.06),(12,.06),(14,.07),(15.8,.09),(18.3,.09),(20.2,.10),(22.7,.12),(25.2,.10),(27.1,.11),(29,.09),(31.1,.08),(33,.06),(34.5,.07), None,
         (39,.09),(41,.10),(43,.09),(45,.09),(47,.08),(48.9,.06),(50.8,.04),(52.8,.03),(54.3,.02),(55.8,.05),(57.7,.09),(59.7,.09),(61.7,.08),(63.7,.08),(65.6,.08),(67.6,.07),(69.6,.05),(71.6,.05),(74,.07), None,
         (86.9,.08),(89.3,.08),(92.3,.07),(95.3,.06),(98.2,.05),(100.2,.04),(102.2,.05),(105,.07),(108,.09),(111,.12),(114,.13),(116,.14),(118,.12),(120,.09),(122,.13),(123.9,.18),(125.9,.20),(127.8,.22)]
NA_12 = [(2.3,-.03),(3.5,-.05),(4.4,-.09),(6,-.06),(7.4,0),(8.9,.08),(10.4,.06),(11.8,0),(13.3,-.01),(15.3,.02),(17.3,.04),(19.2,.04),(20.7,.05),(22.2,.02),(24.2,.02),(25.7,.03),(27.1,.08),(28.6,.11),(30.1,.14),(31.6,.18),(33,.22),(34,.25), None,
         (39,.08),(40.5,.04),(42,0),(44,-.03),(46,-.04),(47.9,-.06),(49.9,-.08),(51.8,-.12),(52.8,-.09),(53.8,-.12),(55.8,-.08),(57.7,-.04),(59.7,.02),(61.2,.03),(62.7,0),(64.7,-.04),(66.6,-.04),(68.6,-.03),(70.6,-.04),(72.6,-.02),(74,.02), None,
         (86.9,-.01),(88.8,-.02),(90.3,-.07),(92.3,-.06),(94.3,-.08),(95.8,-.11),(97.2,-.10),(99.2,-.06),(101.2,-.02),(103.2,.02),(105,.05),(107,.05),(109,.08),(111,.10),(113,.12),(115,.14),(116.5,.10),(118.5,.05),(120.4,.10),(122.4,.18),(124.9,.22),(126.8,.24),(128.3,.23)]
T4_12 = [(2.3,-.04),(4,-.05),(6,-.05),(8,-.04),(10,.02),(12,.02),(14,.05),(15.8,.08),(17.3,.12),(18.8,.11),(20.7,.07),(22.7,.04),(24.2,.02),(25.7,.07),(27.1,.11),(28.1,.10),(29,.07),(30.1,0),(31.1,-.03),(33,-.03),(34.5,-.03), None,
         (39,.07),(40.5,.10),(42,.17),(43.4,.17),(44.4,.20),(46,.11),(47.4,0),(49.4,-.03),(51.3,-.06),(53.3,-.08),(55.3,-.09),(57.3,-.05),(59.2,0),(61.2,.03),(63.2,.03),(65.2,.06),(66.1,.09),(67.6,.05),(69.6,0),(71.6,-.04),(74,-.04), None,
         (86.9,.05),(88.4,.02),(89.8,-.02),(91.8,-.05),(93.8,-.04),(95.8,-.02),(97.7,.02),(99.7,0),(101.7,0),(103.7,-.02),(105.6,0),(107.6,.04),(109.6,.06),(111.5,.09),(113.5,.12),(115.5,.14),(117,.08),(118.5,.05),(120.4,0),(122.4,.02),(124.4,.04),(126.4,.06),(128.3,.09)]

AR_13 = [(16,.10),(17.2,.08),(19.6,.09),(22.5,.10),(25.4,.10),(28.4,.09),(30.7,.08),(33,.06),(35.4,.07),(37.7,.06),(39.5,.04),(41.9,.04),(44.2,.05),(46.5,.04),(48.9,.03),(50.6,.05),(52.4,.06), None,
         (65.3,.11),(67,.08),(69.4,.06),(71.7,.06),(74,.05),(76.4,.04),(77,.05), None,
         (90,.09),(92.8,.09),(96.4,.08),(99.3,.07),(101.6,.10),(104.6,.13),(107,.16),(108.7,.18),(110.4,.16)]
NA_13 = [(16,.17),(17.8,.10),(19.6,.14),(21.3,.11),(23.1,.15),(24.9,.13),(26.6,.14),(28.4,.10),(30.1,.09),(31.9,.07),(33.6,.08),(35.4,.07),(37.2,.04),(38.9,-.05),(40,-.07),(41.9,-.05),(43.6,-.01),(45.4,.03),(47.1,.07),(48.9,.01),(50.6,.05),(52.4,.06), None,
         (65.3,.07),(66.5,.08),(68.2,0),(70,-.08),(71.2,-.12),(72.9,-.09),(75.3,-.07),(77,.02), None,
         (90,-.05),(91.7,-.08),(93.4,-.04),(95.2,0),(97.5,.03),(99.9,.03),(102.2,0),(104,.05),(105.7,.12),(107.5,.17),(109.3,.18),(110.4,.15)]
T4_13 = [(16,-.04),(17.2,.01),(19.6,.01),(21.3,.02),(23.1,0),(24.9,.03),(26.6,.13),(28.4,.10),(30.1,.05),(31.9,.03),(33.6,.07),(35.4,.10),(37.2,.07),(38.9,.02),(40.7,0),(42.4,.01),(44.8,-.01),(47.1,-.02),(49.5,-.02),(52.4,.01), None,
         (65.3,-.12),(66.5,-.08),(68.2,.03),(70,.01),(72.3,-.01),(74.7,-.02),(76.4,-.03),(77,-.01), None,
         (90,.04),(91.1,.12),(92.3,.14),(93.4,.08),(94.6,.10),(96.4,.07),(98.7,.01),(100.5,-.03),(101.6,-.04),(103.4,.02),(105.2,.13),(106.3,.22),(108.1,.19),(110.4,.17)]

AR_X = [(8,.03),(10.3,.02),(12.5,0),(14.7,-.03),(17,-.05),(19.2,-.06),(21.4,-.05),(23.6,-.02),(25.9,0),(28,.03),(30.3,.04),(32.6,.04),(34.8,.02),(37,-.01),(39.2,-.02),(41.5,-.03),(43.7,-.03),(46,-.04),(48.2,-.06),(50.4,-.07),(52.6,-.08),(54.3,-.02),(56,0),(58.2,.02),(60,.04),(61.5,0),(63.8,-.05),(66,-.08),(68.2,-.07),(70.5,-.05),(72.7,-.03),(75,0),(77.1,.01),(79.4,.04),(81.6,.08),(83.8,.10), None,
        (93.3,-.02),(95.5,0),(97.8,0),(99.4,-.01),(101.7,-.03),(103.9,-.04),(106.1,-.02),(108.4,0),(110,.03),(111.7,0),(113.9,-.01),(116.2,0),(118.4,.01),(120.6,.02),(122.9,-.01),(125,-.03),(127.3,-.03),(129,-.01),(131.8,-.01), None,
        (141.6,.04),(144,.04),(146.2,.02),(148,-.05)]
NA_X = [(8,.23),(9.1,.10),(10.8,-.05),(12.5,-.10),(14.7,-.08),(17,-.09),(19.2,-.08),(21.4,-.05),(23.6,.05),(25.3,.06),(27,.03),(28.7,-.02),(29.8,-.06),(31.4,.02),(33.1,.06),(34.8,.13),(36.5,.04),(38.1,-.04),(39.8,-.08),(41.5,0),(43.1,.07),(44.8,.15),(46.5,.07),(48.2,.05),(49.8,.02),(51.5,.11),(52.6,.13),(54.3,.25),(56,.24),(58.2,.23),(60,.24),(61.5,.14),(63.2,.05),(64.9,-.05),(66,-.06),(67.1,.02),(68.8,.08),(70.5,.11),(72.7,.08),(75,.13),(77.1,.14),(79.4,.10),(81.6,.17),(83.8,.21), None,
        (93.3,-.05),(94.4,0),(96.1,.02),(97.8,.02),(99.4,-.02),(101.1,-.08),(102.8,-.10),(104.5,-.06),(106.1,.01),(107.8,.06),(109.5,.03),(111.7,0),(113.4,-.03),(115,0),(116.7,.03),(118.4,0),(120,.05),(121.7,-.02),(123.4,-.10),(125,-.12),(127.3,-.08),(129,-.04),(131.8,-.03), None,
        (141.6,.08),(143,.07),(144.6,.04),(146.2,0),(147.3,0),(148,.20)]
T4_X = [(8,-.03),(9.7,0),(11.4,0),(13.6,0),(15.8,-.02),(17.5,-.01),(19.7,-.04),(21.4,-.04),(23.6,-.03),(25.9,-.03),(28,-.04),(29.8,-.06),(30.9,-.12),(32.6,-.07),(34.8,-.05),(37,-.06),(38.7,-.06),(40.4,-.03),(42.6,-.02),(44.8,-.02),(47,-.04),(49.3,-.06),(51.5,-.08),(53.7,-.07),(56,-.05),(58.2,-.03),(60,-.01),(61.5,-.04),(63.8,-.10),(66,-.11),(68.2,-.11),(69.3,-.08),(70.5,-.11),(72.7,-.10),(75,-.10),(76.6,-.15),(78.3,-.13),(80.5,-.10),(82.2,-.08),(83.8,-.04), None,
        (93.3,-.10),(95,-.06),(96.7,-.05),(97.8,-.02),(99.4,-.08),(101.1,-.11),(102.8,-.10),(105,-.11),(106.7,-.08),(108.4,-.05),(110,-.05),(111.7,-.10),(113.9,-.12),(116.2,-.14),(117.8,-.11),(119.6,-.08),(121.2,-.05),(122.9,-.06),(124.5,-.10),(126.2,-.08),(127.9,-.10),(130.1,-.10),(131.8,-.08), None,
        (141.6,-.07),(143,-.05),(144.6,.06),(145.7,.05),(146.8,0),(148,-.03)]

AR_14 = [(15.7,0),(17.4,-.02),(19.2,-.03),(21,0),(22.7,.01),(24.5,0),(26.3,-.01),(28,-.02),(29.8,-.03),(31.5,-.03),(33.3,-.04),(35,-.03),(36.8,-.01),(37.7,-.01), None,
         (44.8,0),(46.5,-.03),(49.2,-.02),(51.8,-.02),(54.4,-.01),(57.1,-.02),(59.7,-.03),(62.4,-.05),(65,-.06),(67.7,-.03),(70.3,-.02),(73,-.03),(75.6,-.02),(78.2,.02),(80.9,.05),(83.5,.03),(86.2,.02),(88.8,.04),(91.5,.07),(94.1,.08),(96.7,.06),(99.4,.04),(101.6,.06)]
NA_14 = [(16.1,.20),(17.4,.15),(18.7,.10),(20,.03),(21.4,-.03),(22.7,-.05),(24,0),(25.4,-.03),(26.7,-.06),(28,-.03),(29.3,-.03),(30.7,-.05),(32,-.12),(33.3,-.08),(34.7,-.04),(36,.02),(37.7,.10), None,
         (44.8,0),(46.5,-.05),(49.2,-.05),(51.8,-.04),(54.4,-.05),(57.1,-.05),(59.7,-.05),(62.4,-.05),(65,-.07),(67.7,-.06),(70.3,-.08),(73,-.10),(74.7,-.12),(76.5,-.13),(77.8,-.10),(79.1,0),(80.9,.02),(83.5,0),(86.2,-.02),(88.8,.02),(91.5,.07),(94.1,.05),(96.7,0),(99.4,.05),(101.6,.03)]
T4_14 = [(15.7,0),(17.4,-.06),(19.2,-.06),(21,-.05),(22.7,-.07),(24,-.05),(25.4,-.15),(25.8,-.20),(26.7,-.10),(28,-.04),(29.3,-.03),(30.7,.01),(32,-.05),(33.3,-.06),(34.7,-.06),(36,-.09),(37.7,-.08), None,
         (44.8,0),(46.5,-.05),(49.2,-.05),(51.8,-.04),(54.4,.01),(56.2,-.03),(58.9,-.02),(61.5,-.05),(64.6,-.10),(67.2,-.05),(69.9,-.02),(72.5,-.04),(75.2,-.03),(77.8,.03),(80.4,.05),(83,.08),(85.3,.04),(87.9,.06),(90.6,.03),(93.2,.02),(95.4,-.05),(96.7,-.10),(98.5,-.04),(100.3,-.02),(101.6,.10)]

AR_15 = [(18,.05),(20,.06),(21.9,.10),(23.8,.08),(25.8,.06),(27.7,.05),(30.2,.04),(33.1,.03),(36,.03),(38.9,.01),(41.8,.03),(44.7,.04),(47.7,.03),(50.6,.02),(53.5,.04),(56.4,.03),(59.3,0),(62.3,.01),(65.2,.02),(68.1,0),(71,-.01),(73.9,.01),(76.8,.02),(79.8,.01),(82.7,.04),(85.6,.06),(88.5,.08),(91.4,.08),(94.4,.07),(97,.06)]
NA_15 = [(18,.22),(20,.20),(21.4,.16),(23.3,.10),(24.8,.02),(26.3,-.03),(27.7,-.08),(29.2,-.13),(30.6,-.15),(32.1,-.10),(33.6,-.06),(35,-.05),(37,-.04),(38.9,-.03),(40.9,0),(42.8,-.03),(44.7,0),(46.7,.05),(48.6,.06),(50.6,.07),(52.5,.05),(54.5,0),(56.4,-.03),(58.4,-.05),(60.3,-.05),(62.3,-.04),(64.2,-.05),(66.1,-.02),(68.1,-.06),(70,-.08),(72,-.07),(73.9,-.05),(75.9,-.04),(77.8,-.05),(79.8,-.07),(81.7,-.09),(83.7,-.10),(85.6,-.10),(87.5,-.08),(89.5,-.07),(91.4,-.10),(93.4,-.10),(95.3,-.05),(97,-.04)]
T4_15 = [(18,-.11),(20.4,-.11),(22.4,-.08),(24.3,-.03),(26.3,0),(27.7,-.05),(29.2,-.10),(30.6,-.10),(32.1,-.06),(33.6,.02),(35,-.03),(37,-.03),(38.9,-.04),(40.9,-.02),(42.8,-.01),(44.7,.02),(46.7,0),(48.6,.02),(50.1,-.03),(51.5,.05),(53.5,.04),(55.4,0),(57.4,-.02),(59.3,-.04),(61.3,-.03),(63.2,-.02),(65.2,-.04),(67.1,-.06),(69.1,-.05),(71,-.07),(73,-.08),(74.9,-.05),(76.8,-.03),(78.8,-.02),(80.7,0),(82.7,.08),(84.6,0),(86.6,-.02),(88.5,-.04),(90.5,-.08),(92.4,-.04),(94.4,0),(96.3,.04),(97,0)]

AR_16 = [(2.4,-.03),(3.9,.01),(5.3,.04),(6.7,.06),(8.2,.05),(10.1,.03),(12.5,.04),(15.4,.04),(18.3,.04),(20.7,0),(23.1,-.01),(26,0),(28.9,0),(31.8,0),(34.7,-.02),(37.6,-.01),(40.5,0),(43.4,.01),(46.2,.02),(49.1,.02),(51,.05),(53,.03),(54.9,0),(56.8,-.03),(58.8,-.05),(60.7,-.02),(63.6,0),(66.5,.02),(69.4,.03),(72.3,.04),(75.1,.05),(78,.04),(79.5,0),(80.4,-.06)]
NA_16 = [(2.4,-.15),(3.9,-.10),(5.3,-.05),(6.7,-.02),(8.7,0),(10.6,.05),(12.5,.08),(14.5,.09),(16.4,.05),(18.3,.02),(20.2,0),(22.2,-.03),(24.1,-.01),(26,.01),(27.9,.02),(29.9,.03),(31.8,.08),(33.7,.14),(35.2,.19),(36.6,.13),(38,.07),(39.5,.01),(41.4,-.05),(43.4,-.06),(45.3,-.05),(47.2,-.06),(49.1,-.03),(51,-.03),(53,-.06),(54.9,-.10),(56.8,-.13),(58.8,-.10),(60.7,-.06),(62.6,-.07),(64.5,-.05),(66.5,-.04),(68.4,-.06),(70.3,-.04),(72.3,0),(74.2,.07),(76.2,.09),(78,.06),(79.5,0),(80.4,-.10)]
T4_16 = [(2.4,-.04),(3.9,.03),(5.3,.06),(6.7,.04),(8.2,.03),(9.6,.06),(11,.04),(12.5,.10),(14,.11),(15.4,.08),(16.9,.05),(18.3,0),(19.7,.02),(21.2,-.02),(22.6,-.05),(24.1,-.03),(25.5,0),(27,.05),(28.4,.02),(29.9,0),(31.8,-.03),(33.7,-.02),(35.6,-.03),(37.6,-.04),(39.5,-.02),(41.4,0),(43.4,.02),(45.3,0),(47.2,.02),(49.1,.05),(50.6,0),(52,-.03),(54,-.01),(55.9,-.04),(57.8,-.07),(59.7,-.05),(61.7,0),(63.6,.02),(65.5,.01),(67.4,.05),(69.4,.02),(71.3,.03),(72.7,.15),(74.2,.12),(75.6,.08),(77.1,.07),(78.5,.03),(80,-.02),(80.7,-.07)]

AR_17 = [(2,-.08),(3.9,-.08),(5.9,-.07),(7.8,-.05),(9.8,-.04),(11.7,-.02),(13.2,-.01),(14.6,-.02),(16.6,-.04),(18.5,-.05),(20.5,-.05),(22.4,-.06),(24.4,-.07),(28.3,-.07),(32.2,-.07),(36.1,-.07),(38,-.08),(40,-.08),(42,-.09),(43.9,-.09),(45.9,-.08),(47.8,-.06),(49.8,-.04),(51.7,-.03),(53.7,-.03),(55.6,-.05),(57.6,-.08),(59.5,-.08),(61.5,-.07),(63.4,-.05),(65.4,-.04),(67.3,-.02),(69.3,-.02),(71.2,-.03),(73.2,-.05),(75.1,-.04),(77.1,-.03),(78,-.05)]
NA_17 = [(2,-.10),(3.9,-.13),(5.9,-.13),(7.8,-.12),(9.8,-.10),(11.2,-.05),(12.7,0),(14.1,.02),(15.6,.03),(17.1,.05),(18.5,.07),(20,.10),(21,.11),(22.4,.08),(24.4,.06),(26.3,.04),(28.3,0),(29.8,-.03),(31.2,-.07),(32.7,-.08),(34.1,-.07),(36.1,-.08),(38,-.13),(40,-.15),(42,-.14),(43.9,-.13),(45.4,-.15),(46.8,-.11),(48.3,-.05),(49.8,-.04),(51.2,-.02),(52.7,-.06),(54.1,-.06),(55.6,-.03),(57.6,0),(59.5,.02),(61.5,-.02),(63.4,-.03),(65.4,-.04),(67.3,-.02),(69.3,-.01),(71.2,-.04),(73.2,-.06),(75.1,-.05),(77.1,-.02),(78,-.05)]
T4_17 = [(2,-.08),(3.9,-.08),(5.9,-.06),(7.8,-.07),(9.8,-.05),(11.7,-.03),(13.2,-.01),(14.6,.02),(16.6,0),(18.5,.02),(20.5,0),(22.4,-.02),(24.4,-.01),(26.3,-.03),(28.3,-.05),(30.2,-.10),(32.2,-.10),(34.1,-.07),(36.1,-.06),(38,-.07),(40,-.06),(42,-.08),(43.9,-.08),(45.9,-.09),(47.8,-.06),(49.3,-.02),(50.7,0),(51.7,.03),(52.7,0),(54.1,-.03),(55.6,-.05),(57.6,-.07),(59.5,-.07),(61.5,-.06),(63,-.03),(64.4,.03),(65.9,.04),(67.3,.07),(68.8,.04),(70.2,.02),(71.7,-.02),(73.2,-.03),(74.6,-.05),(75.6,0),(77.1,.02),(78,.01)]

AR_18 = [(1.8,.07),(4.7,.08),(7.6,.08),(9.6,.09),(11.6,.09), None,
         (17.6,.03),(20.4,.04),(23.3,.05),(26.3,.06),(29.2,.06),(32.2,.05),(34.6,.06), None,
         (40.5,.06),(43.9,.05),(47.8,.05),(51.8,.05),(55.7,.05),(58.6,.06),(60.6,.06), None,
         (71.2,.11),(72.8,.13),(74.3,.13)]
NA_18 = [(1.8,.09),(3.7,.08),(5.7,.10),(7.6,.09),(9.1,.11),(10.6,.16),(11.6,.19), None,
         (17.6,.03),(18.9,-.04),(20.4,-.07),(22.4,-.03),(24.3,0),(26.3,.05),(27.7,.03),(29.2,0),(31.2,-.02),(33.1,-.01),(34.6,-.01), None,
         (40.5,-.01),(42.2,-.04),(43.9,-.03),(45.9,-.06),(47.8,-.04),(49.8,-.07),(51.8,-.09),(53.7,-.07),(55.7,-.06),(57.6,-.03),(59.1,0),(60.1,.05),(61.1,.14),(62,.20), None,
         (71.2,.12),(72.4,.15),(73.8,.19),(74.8,.18),(75.5,.08)]
T4_18 = [(1.8,.04),(4.7,.05),(7.6,.06),(9.1,.02),(10.1,.03),(11.6,.02), None,
         (17.6,-.08),(18.9,0),(20.4,.06),(21.9,.06),(23.3,.10),(24.8,.12),(25.8,.13),(26.8,.05),(28.2,.03),(29.7,.02),(31.2,-.01),(33.1,0),(34.6,-.01), None,
         (40.5,-.01),(42.5,-.03),(44.4,-.03),(46.4,-.05),(47.8,-.02),(49.8,-.05),(51.8,-.03),(53.7,-.02),(55.7,-.01),(57.6,0),(59.6,.03),(61.1,.08),(62,.12), None,
         (71.2,.05),(72.4,.09),(73.3,.12),(74.3,.06),(75.3,.03)]

AR_19 = [(2.4,.09),(4.7,.09),(7,.08),(9.4,.06),(11.8,.06),(14.1,.05),(16.5,.06),(18.8,.07),(21.2,.10), None,
         (29.4,.12),(31.8,.11),(34.1,.09),(36.5,.07),(39.4,.06),(42.9,.06),(46.5,.06),(50,.07),(52.9,.10),(55.9,.11),(58.8,.13)]
NA_19 = [(1.8,0),(2.9,.06),(4.1,.05),(5.3,.07),(6.5,.10),(7.6,.05),(8.8,.06),(10.6,.02),(12.4,0),(14.1,-.01),(15.9,.01),(17.6,.05),(19.4,.10),(20.6,.17),(21.8,.20), None,
         (29.4,-.02),(31.2,-.03),(32.9,0),(34.7,.02),(35.9,.06),(37.6,.04),(39.4,0),(40.6,-.06),(42.4,-.04),(44.1,.02),(45.9,-.02),(47.6,.05),(50,.06),(52.4,.08),(54.7,.10),(57,.10),(58.2,.18),(59.2,.12)]
T4_19 = [(1.8,.10),(3.5,.09),(5.3,.10),(7,.07),(8.8,.09),(10.6,.06),(12.4,.08),(14.1,.04),(15.9,.02),(17.6,.05),(19.4,.13),(20.6,.19),(21.8,.15), None,
         (29.4,.03),(31.2,.01),(32.9,.05),(34.7,.03),(36.5,0),(38.2,-.02),(40,-.07),(41.2,-.06),(42.9,-.05),(45.3,-.04),(47.6,-.03),(50,0),(52.4,.05),(54.7,.07),(57,.06),(58.8,.10)]

AR_20 = [(1.7,-.02),(3.9,0),(6,.02),(8.3,.01),(10.5,0),(12.7,-.01),(14.9,-.01),(17,0),(19.3,.01),(20.4,.05),(22,.06),(23.7,.08),(25.4,.06),(27,0),(28.7,-.05),(30.9,-.07),(33.1,-.08),(35.3,-.07),(37.5,-.05),(39.7,-.03),(41.9,-.01),(44.1,.02),(46.3,.04),(48.5,.07),(50.7,.08),(52.9,.08),(55.1,.07),(57.3,.06),(59,0),(60,-.05)]
NA_20 = [(1.7,.06),(3.3,.05),(5,.02),(6.6,-.03),(8.3,-.05),(9.9,-.03),(11.6,-.05),(13.2,-.07),(14.9,-.06),(16.5,-.04),(18.2,-.01),(19.8,.02),(21.5,.08),(23.2,.15),(24.3,.18),(25.4,.14),(26.5,.15),(27.6,0),(29.2,-.05),(31.4,-.07),(33.6,-.07),(35.8,-.09),(38,-.12),(39.7,-.13),(41.3,-.08),(43,-.03),(44.6,.04),(46.3,.10),(48,.12),(49.6,.12),(51.3,.10),(52.9,.10),(54.6,.08),(56.2,.09),(57.9,.04),(59.5,-.10),(60.5,-.20)]
T4_20 = [(1.7,-.03),(3.3,-.01),(5,.03),(6.6,0),(8.3,-.03),(9.9,-.02),(11.6,-.06),(13.2,-.08),(14.9,-.05),(16.5,-.04),(18.2,-.02),(19.8,.02),(21.5,.10),(23.2,.17),(24.3,.14),(25.4,.16),(26.5,.10),(27.6,0),(29.2,-.07),(31.4,-.10),(33.6,-.08),(35.8,-.09),(38,-.07),(40.2,-.05),(42.4,-.03),(44.6,-.01),(46.8,.02),(49,.05),(50.7,.20),(52.4,.15),(54,.11),(55.7,.10),(57.3,.08),(59,.02),(60,-.05)]

AR_21 = [(11,.08),(14.8,.08), None,
         (21.9,.09),(25.8,.10),(30.5,.10),(35.2,.10),(38.3,.11),(40.6,.10),(43,.10)]
NA_21 = [(11,.01),(12.5,-.01),(14,-.02),(14.8,.01), None,
         (21.9,.16),(23.4,.13),(25,.02),(26.6,0),(28,-.01),(30.5,.02),(32.8,.04),(35.2,.12),(37.5,.16),(39,.14),(40.6,.10),(42.2,.08),(43.7,.05)]
T4_21 = [(11.7,.14),(13.3,.12),(14.8,.08), None,
         (22.7,.11),(24.2,.10),(25.8,.07),(27.3,.04),(28.9,0),(30.5,-.01),(32,.02),(33.6,.05),(35.9,.06),(38.3,.10),(39.8,.12),(41.4,.10),(43,.08)]

AR_22 = [(11.7,.04),(13.8,0),(15.9,-.03),(17.9,-.04),(20,0),(22,.06),(24.1,.05),(26.2,0),(28.3,.01),(30.3,.03),(32.4,0),(34.5,-.03),(36.6,-.02),(38.6,0),(40.7,.05),(42.8,.06),(44.1,.03)]
NA_22 = [(11.7,.17),(13.1,.10),(15.2,.05),(17.2,-.04),(19.3,.03),(21.4,.10),(23.4,.09),(25.5,.04),(27.6,-.01),(29.7,.04),(31.7,.04),(33.8,-.01),(35.9,-.04),(37.9,0),(40,.08),(42.1,.07),(43.4,0),(44.6,-.23)]
T4_22 = [(11.7,.10),(13.8,.05),(15.9,.02),(17.9,-.02),(20,.04),(22,.09),(24.1,.10),(26.2,.03),(28.3,.02),(30.3,.06),(32.4,.01),(34.5,-.03),(36.6,-.01),(38.6,.02),(40.7,.10),(42.8,.10),(44.6,0)]

SERIES = ["t_AR 5M", "NAanc 5M", "t_4d 5M"]
PALETTE = {"t_AR 5M": "#e8184d", "NAanc 5M": "#2cc62a", "t_4d 5M": "#1e3dd6"}

# ---------------------------------------------------------------------------
# layout of the panels (pixel boxes on the 1296x1654 canvas)
# name, series, (left, top, right, bottom), xmax, ylim, left tick labels, xticks, name label xy
# ---------------------------------------------------------------------------
W, H = 1296, 1654
T40 = [0, 40, 80, 120, 160]
PANELS = [
    ("1", (AR_1, NA_1, T4_1), (93, 23, 1166, 109), 245, (-0.21, 0.305), ["0.3", "0", "-0.2"], [0, 50, 100, 150, 200], (134, 38)),
    ("2", (AR_2, NA_2, T4_2), (93, 137, 1168, 220), 238, (-0.305, 0.30), ["0.3", "0", "-0.3"], [0, 50, 100, 150, 200], (125, 204)),
    ("3", (AR_3, NA_3, T4_3), (93, 258, 926, 344), 192, (-0.205, 0.203), ["0.2", "0", "-0.2"], T40, (123, 273)),
    ("4", (AR_4, NA_4, T4_4), (93, 371, 909, 458), 189, (-0.15, 0.252), ["0.25", "0", "-0.15"], T40, (123, 438)),
    ("5", (AR_5, NA_5, T4_5), (93, 492, 857, 578), 178.5, (-0.21, 0.2), ["0.2", "0", "-0.2"], T40, (123, 556)),
    ("6", (AR_6, NA_6, T4_6), (93, 608, 802, 694), 167, (-0.115, 0.3), ["0.3", "0", "-0.1"], T40, (127, 629)),
    ("7", (AR_7, NA_7, T4_7), (93, 724, 742, 811), 156.5, (-0.164, 0.262), ["0.25", "0", "-0.15"], T40, (133, 746)),
    ("8", (AR_8, NA_8, T4_8), (91, 839, 689, 925), 143.5, (-0.236, 0.55), ["0.5", "0", "-0.2"], T40, (137, 854)),
    ("9", (AR_9, NA_9, T4_9), (91, 959, 616, 1043), 128, (-0.213, 0.26), ["0.25", "0", "-0.2"], T40, (125, 975)),
    ("10", (AR_10, NA_10, T4_10), (91, 1073, 630, 1160), 133.4, (-0.171, 0.2), ["0.2", "0", "-0.15"], T40, (151, 1092)),
    ("11", (AR_11, NA_11, T4_11), (91, 1190, 641, 1277), 136, (-0.206, 0.206), ["0.2", "0", "-0.2"], T40, (141, 1210)),
    ("12", (AR_12, NA_12, T4_12), (93, 1305, 609, 1391), 128.6, (-0.16, 0.315), ["0.3", "0", "-0.15"], T40, (132, 1326)),
    ("13", (AR_13, NA_13, T4_13), (93, 1421, 524, 1509), 110.4, (-0.17, 0.287), ["0.25", "0", "-0.15"], T40, (129, 1445)),
    ("X", (AR_X, NA_X, T4_X), (93, 1549, 701, 1634), 148, (-0.16, 0.27), ["0.25", "0", "-0.15"], T40, (156, 1572)),
    ("14", (AR_14, NA_14, T4_14), (875, 608, 1263, 693), 102, (-0.21, 0.21), ["0.2", "0", "-0.2"], [0, 40, 80], (912, 634)),
    ("15", (AR_15, NA_15, T4_15), (902, 725, 1241, 810), 97.3, (-0.157, 0.267), ["0.25", "0", "-0.15"], [0, 20, 40, 60, 80], (938, 754)),
    ("16", (AR_16, NA_16, T4_16), (904, 841, 1183, 925), 81, (-0.21, 0.21), ["0.2", "0", "-0.2"], [0, 20, 40, 60, 80], (950, 904)),
    ("17", (AR_17, NA_17, T4_17), (904, 958, 1172, 1045), 78.3, (-0.219, 0.123), ["0.1", "0", "-0.2"], [0, 20, 40, 60], (933, 974)),
    ("18", (AR_18, NA_18, T4_18), (904, 1074, 1163, 1161), 76, (-0.11, 0.213), ["0.2", "0", "-0.1"], [0, 20, 40, 60], (1243, 1109)),
    ("19", (AR_19, NA_19, T4_19), (905, 1192, 1073, 1279), 59.4, (-0.118, 0.265), ["0.25", "0", "-0.1"], [0, 20, 40], (1207, 1217)),
    ("20", (AR_20, NA_20, T4_20), (905, 1306, 1088, 1392), 60.6, (-0.223, 0.2), ["0.2", "0", "-0.2"], [0, 20, 40, 60], (1207, 1341)),
    ("21", (AR_21, NA_21, T4_21), (905, 1423, 998, 1508), 44, (-0.027, 0.165), ["0.16", "0.04", "-0.02"], [0, 20, 40], (1206, 1464)),
    ("22", (AR_22, NA_22, T4_22), (905, 1549, 1013, 1634), 45, (-0.26, 0.21), ["0.2", "0", "-0.25"], [0, 20, 40], (1207, 1596)),
]


def series_frame(points, name):
    rows, seg = [], 0
    for p in points:
        if p is None:
            seg += 1
            continue
        rows.append((p[0], p[1], name, f"{name}-{seg}"))
    return pd.DataFrame(rows, columns=["pos", "score", "series", "seg"])


def fx(px):
    return px / W


def fy(py):
    return 1 - py / H


sns.set_theme(style="white")
plt.rcParams["font.family"] = ["Open Sans", "DejaVu Sans"]
plt.rcParams["axes.linewidth"] = 1.6

fig = plt.figure(figsize=(W / 100, H / 100), dpi=100)
fig.patch.set_facecolor("white")

for name, data, (l, t, r, b), xmax, ylim, ylabels, xticks, (lx, ly) in PANELS:
    ax = fig.add_axes([fx(l), fy(b), (r - l) / W, (b - t) / H])
    df = pd.concat([series_frame(pts, s) for pts, s in zip(data, SERIES)], ignore_index=True)
    sns.lineplot(data=df, x="pos", y="score", hue="series", hue_order=SERIES,
                 units="seg", estimator=None, sort=False, palette=PALETTE,
                 linewidth=1.35, legend=False, ax=ax)
    ticks = [v for v in xticks if v <= xmax]
    ax.set_xticks(ticks)
    ax.set_xticklabels([str(v) for v in ticks])
    ax.set_yticks([float(v) for v in ylabels])
    ax.set_yticklabels(ylabels)
    ax.set_xlim(0, xmax)
    ax.set_ylim(*ylim)
    ax.set_xlabel("")
    ax.set_ylabel("")
    tight = name == "14"
    ax.tick_params(axis="both", direction="in", length=4, width=1.2, colors="black", labelsize=12.5)
    ax.tick_params(axis="x", pad=2)
    ax.tick_params(axis="y", pad=2 if tight else 6)
    for sp in ax.spines.values():
        sp.set_color("black")
        sp.set_linewidth(1.7)

    ax2 = ax.twinx()
    ax2.set_yticks([0.1, 0, -0.1])
    ax2.set_yticklabels(["0.1", "0", "-0.1"])
    ax2.set_ylim(-0.112, 0.105)
    ax2.tick_params(axis="y", direction="in", length=4, width=1.2, colors="black",
                    labelsize=12.5, pad=2 if tight else 5)
    for sp in ax2.spines.values():
        sp.set_visible(False)
    ax2.grid(False)

    # "score" axis title
    sx = 23 if l < 200 else (845 if tight else 833)
    fig.text(fx(sx), fy((t + b) / 2), "score", rotation=90, ha="center", va="center", fontsize=13)

    # chromosome name
    fig.text(fx(lx), fy(ly), name, ha="center", va="center", fontsize=19)

# legend
legend_y = [415, 442, 469]
for s, yy in zip(SERIES, legend_y):
    fig.text(fx(1120), fy(yy), s, ha="right", va="center", fontsize=14, color=PALETTE[s])
    fig.add_artist(Line2D([fx(1134), fx(1215)], [fy(yy), fy(yy)], color=PALETTE[s], linewidth=1.4,
                          transform=fig.transFigure))
fig.text(fx(1095), fy(519), "unit of x axes: Mb", ha="center", va="center", fontsize=16)

fig.savefig("out.png", dpi=100, facecolor="white")
